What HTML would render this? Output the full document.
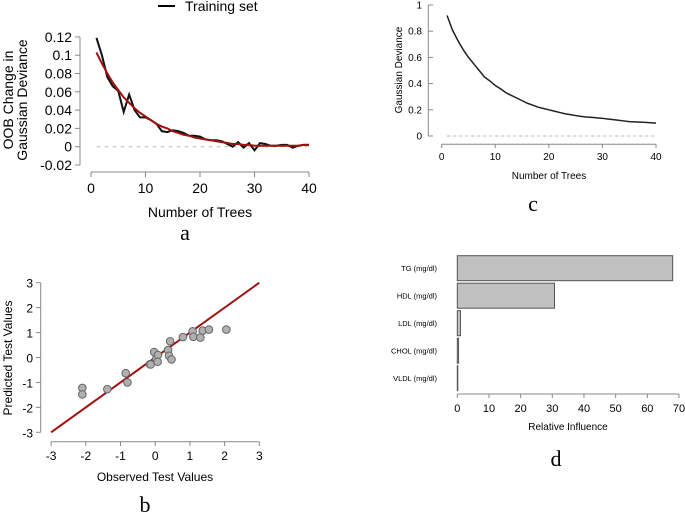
<!DOCTYPE html>
<html><head><meta charset="utf-8"><style>
body{margin:0;background:#fff;}
svg{display:block;font-family:"Liberation Sans",sans-serif;}
</style></head><body>
<svg id="s" width="685" height="515"></svg>
<script>
const treesA=[1,2,3,4,5,6,7,8,9,10,11,12,13,14,15,16,17,18,19,20,21,22,23,24,25,26,27,28,29,30,31,32,33,34,35,36,37,38,39,40];
const trainA=[0.119,0.100,0.076,0.066,0.061,0.038,0.057,0.040,0.032,0.032,0.029,0.025,0.017,0.016,0.018,0.017,0.015,0.012,0.012,0.011,0.008,0.007,0.007,0.006,0.003,0.000,0.005,-0.001,0.004,-0.004,0.004,0.003,0.001,0.001,0.002,0.002,-0.001,0.001,0.002,0.002];
const fitA=[0.103,0.091,0.080,0.070,0.062,0.054,0.048,0.042,0.037,0.033,0.029,0.025,0.022,0.020,0.017,0.015,0.013,0.012,0.010,0.009,0.008,0.007,0.006,0.005,0.004,0.003,0.003,0.002,0.002,0.001,0.001,0.001,0.001,0.001,0.001,0.001,0.001,0.001,0.002,0.002];
const yTicksA=["0.12","0.1","0.08","0.06","0.04","0.02","0","-0.02"];
const xTicksA=[0,10,20,30,40];
const obsB=[-2.1,-2.1,-1.38,-0.85,-0.8,-0.15,-0.13,-0.03,0.03,0.08,0.07,0.37,0.4,0.43,0.47,0.8,1.08,1.1,1.3,1.37,1.55,2.05];
const predB=[-1.22,-1.48,-1.27,-0.63,-1.0,-0.27,-0.28,0.22,-0.05,0.1,-0.17,0.3,0.07,0.65,-0.08,0.82,1.05,0.83,0.8,1.08,1.12,1.12];
const ticksB=[-3,-2,-1,0,1,2,3];
const devC=[0.92,0.81,0.73,0.66,0.60,0.55,0.50,0.45,0.42,0.385,0.36,0.33,0.31,0.29,0.27,0.25,0.235,0.22,0.21,0.20,0.19,0.18,0.17,0.163,0.156,0.15,0.145,0.142,0.138,0.135,0.13,0.125,0.12,0.115,0.11,0.108,0.106,0.104,0.101,0.098];
const yTicksC=[0,0.2,0.4,0.6,0.8,1];
const varsD=["TG (mg/dl)","HDL (mg/dl)","LDL (mg/dl)","CHOL (mg/dl)","VLDL (mg/dl)"];
const inflD=[68,30.7,1.0,0.4,0.1];
const xTicksD=[0,10,20,30,40,50,60,70];

const S=document.getElementById('s');const NS='http://www.w3.org/2000/svg';
function el(t,a,txt){const e=document.createElementNS(NS,t);for(const k in a)e.setAttribute(k,a[k]);if(txt!==undefined)e.textContent=txt;S.appendChild(e);return e;}
const G='#888';
// Panel A
const xa=v=>91+(v/40)*218, ya=v=>146.7-(v/0.02)*18.3;
let e=el('line',{x1:158,y1:6,x2:175,y2:6,stroke:'#000','stroke-width':2});

e=el('text',{x:185,y:11,'font-size':14},'Training set');

el('line',{x1:80,y1:ya(0.12),x2:80,y2:ya(-0.02),stroke:G});
yTicksA.forEach(t=>{const y=ya(parseFloat(t));el('line',{x1:75,y1:y,x2:80,y2:y,stroke:G});
 e=el('text',{x:72,y:y+5,'font-size':14,'text-anchor':'end'},t);});
el('line',{x1:xa(0),y1:172,x2:xa(40),y2:172,stroke:G});
xTicksA.forEach(t=>{el('line',{x1:xa(t),y1:172,x2:xa(t),y2:177,stroke:G});
 e=el('text',{x:xa(t),y:193,'font-size':14,'text-anchor':'middle'},t);});
el('line',{x1:xa(1),y1:ya(0),x2:xa(40),y2:ya(0),stroke:'#bbb','stroke-dasharray':'4,4'});
e=el('polyline',{points:treesA.map((t,i)=>xa(t)+','+ya(trainA[i])).join(' '),fill:'none',stroke:'#111','stroke-width':2});

e=el('polyline',{points:treesA.map((t,i)=>xa(t)+','+ya(fitA[i])).join(' '),fill:'none',stroke:'#a01010','stroke-width':2});

e=el('text',{x:200,y:217,'font-size':14,'text-anchor':'middle'},'Number of Trees');
e=el('text',{transform:'translate(13,100) rotate(-90)','font-size':14,'text-anchor':'middle'},'OOB Change in');
el('text',{transform:'translate(27,100) rotate(-90)','font-size':14,'text-anchor':'middle'},'Gaussian Deviance');
e=el('text',{x:185,y:240,'font-size':22,'font-family':'Liberation Serif','text-anchor':'middle'},'a');
// Panel B
const xb=v=>155.2+v*34.7, yb=v=>357.5-v*24.93;
el('line',{x1:40.7,y1:yb(3),x2:40.7,y2:yb(-3),stroke:G});
ticksB.forEach(t=>{el('line',{x1:36,y1:yb(t),x2:40.7,y2:yb(t),stroke:G});
 e=el('text',{x:33,y:yb(t)+5,'font-size':12,'text-anchor':'end'},t);
 el('line',{x1:xb(t),y1:441.7,x2:xb(t),y2:446,stroke:G});
 e=el('text',{x:xb(t),y:460,'font-size':12,'text-anchor':'middle'},t);});
el('line',{x1:xb(-3),y1:441.7,x2:xb(3),y2:441.7,stroke:G});
e=el('line',{x1:xb(-3),y1:yb(-3),x2:xb(3),y2:yb(3),stroke:'#a01010','stroke-width':2});
obsB.forEach((v,i)=>{e=el('circle',{cx:xb(v),cy:yb(predB[i]),r:3.8,fill:'#b0b0b0',stroke:'#666','stroke-width':1});
 });
e=el('text',{x:155,y:481,'font-size':12,'text-anchor':'middle'},'Observed Test Values');
e=el('text',{transform:'translate(12,358) rotate(-90)','font-size':12,'text-anchor':'middle'},'Predicted Test Values');
e=el('text',{x:145,y:512,'font-size':22,'font-family':'Liberation Serif','text-anchor':'middle'},'b');
// Panel C
const xc=v=>441.7+(v/40)*214.3, yc=v=>136-v*131;
el('line',{x1:428.3,y1:yc(1),x2:428.3,y2:yc(0),stroke:G});
yTicksC.forEach(t=>{el('line',{x1:428.3,y1:yc(t),x2:433,y2:yc(t),stroke:G});
 e=el('text',{x:422,y:yc(t)+3.5,'font-size':10,'text-anchor':'end'},String(t));});
el('line',{x1:xc(0),y1:144.3,x2:xc(40),y2:144.3,stroke:G});
xTicksA.forEach(t=>{el('line',{x1:xc(t),y1:144.3,x2:xc(t),y2:148,stroke:G});
 e=el('text',{x:xc(t),y:160,'font-size':10,'text-anchor':'middle'},t);});
el('line',{x1:xc(1),y1:yc(0),x2:xc(40),y2:yc(0),stroke:'#bbb','stroke-dasharray':'3,3'});
e=el('polyline',{points:treesA.map((t,i)=>xc(t)+','+yc(devC[i])).join(' '),fill:'none',stroke:'#222','stroke-width':1.5});

e=el('text',{x:549,y:179,'font-size':10,'text-anchor':'middle'},'Number of Trees');
e=el('text',{transform:'translate(402,70) rotate(-90)','font-size':10,'text-anchor':'middle'},'Gaussian Deviance');
e=el('text',{x:533,y:211,'font-size':22,'font-family':'Liberation Serif','text-anchor':'middle'},'c');
// Panel D
const xd=v=>457.3+v*3.167, yd=i=>255.7+i*27.5;
varsD.forEach((n,i)=>{const w=Math.max(inflD[i]*3.167,0.5);
 e=el('rect',{x:xd(0),y:yd(i),width:w,height:25,fill:'#c0c0c0',stroke:'#555','stroke-width':1});
 
 e=el('text',{x:437,y:yd(i)+15.5,'font-size':7.5,'text-anchor':'end'},n);});
el('line',{x1:xd(0),y1:394,x2:xd(70),y2:394,stroke:G});
xTicksD.forEach(t=>{el('line',{x1:xd(t),y1:394,x2:xd(t),y2:398,stroke:G});
 e=el('text',{x:xd(t),y:412,'font-size':11,'text-anchor':'middle'},t);});
e=el('text',{x:568,y:430,'font-size':10,'text-anchor':'middle'},'Relative Influence');
e=el('text',{x:556,y:466,'font-size':22,'font-family':'Liberation Serif','text-anchor':'middle'},'d');
</script>
</body></html>
